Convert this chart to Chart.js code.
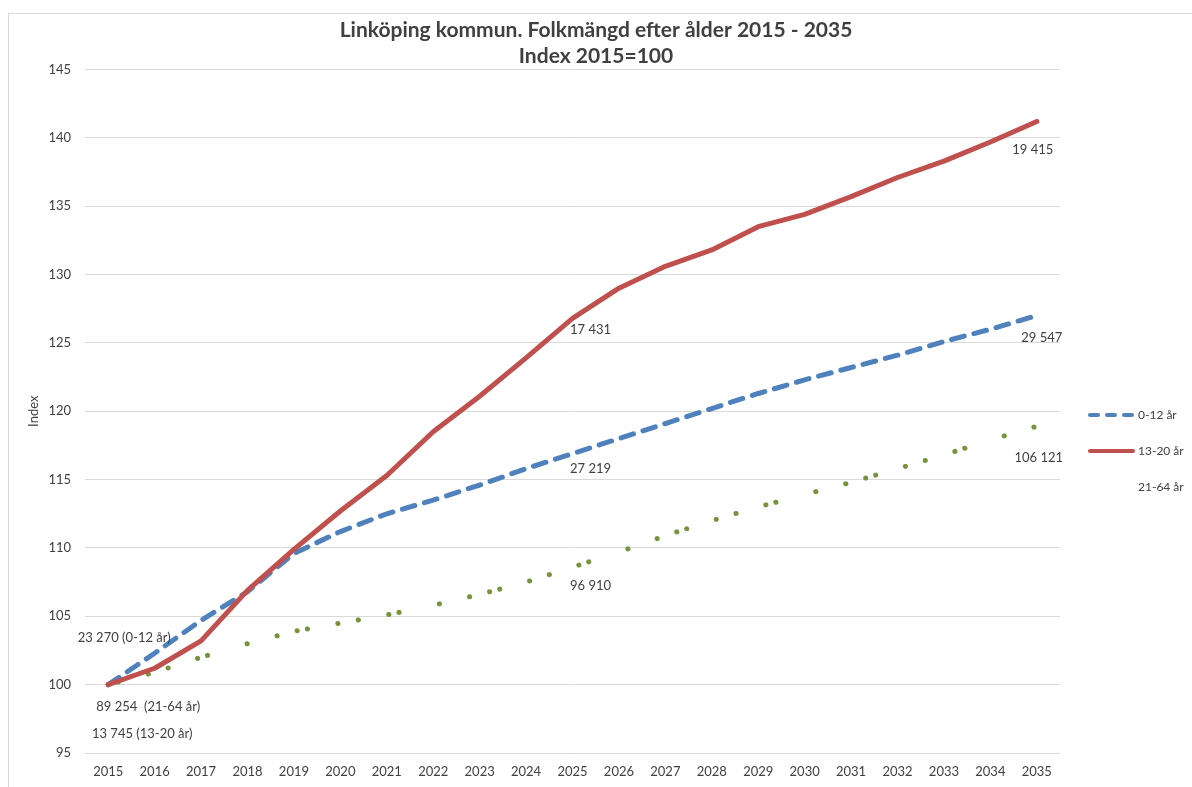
<!DOCTYPE html>
<html>
<head>
<meta charset="utf-8">
<title>Linköping kommun. Folkmängd efter ålder 2015 - 2035</title>
<script src="https://cdn.jsdelivr.net/npm/chart.js@4.4.1/dist/chart.umd.min.js"></script>
<style>
    body { margin: 0; background: #fff; }
    #wrap { position: relative; width: 1192px; height: 787px; }
</style>
</head>
<body>
<div id="wrap"><canvas id="popChart"></canvas></div>
<script>
// Data (index 2015 = 100)
const years = ['2015', '2016', '2017', '2018', '2019', '2020', '2021', '2022', '2023', '2024', '2025',
               '2026', '2027', '2028', '2029', '2030', '2031', '2032', '2033', '2034', '2035'];
const age0to12 = [100, 102.3, 104.7, 106.8, 109.6, 111.2, 112.5, 113.5, 114.6, 115.8, 116.9,
                  118.0, 119.1, 120.2, 121.3, 122.3, 123.2, 124.1, 125.1, 126.0, 127.0];
const age13to20 = [100, 101.2, 103.2, 106.9, 109.9, 112.7, 115.3, 118.5, 121.1, 123.9, 126.8,
                   129.0, 130.6, 131.8, 133.5, 134.4, 135.7, 137.1, 138.3, 139.7, 141.2];
const age21to64 = [100, 100.9, 102.0, 103.0, 103.9, 104.5, 105.1, 105.8, 106.6, 107.5, 108.6,
                   109.7, 110.9, 112.0, 113.0, 113.9, 114.8, 115.8, 116.8, 117.9, 118.9];
const seriesNames = ['0-12 år', '13-20 år', '21-64 år'];
const yMin = 95;
const yMax = 145;
const yStep = 5;

// Population labels attached to single points: [series, year index, text]
const pointNotes = [
    [0, 0, '23 270 (0-12 år)'],
    [2, 0, '89 254  (21-64 år)'],
    [1, 0, '13 745 (13-20 år)'],
    [1, 10, '17 431'],
    [0, 10, '27 219'],
    [2, 10, '96 910'],
    [1, 20, '19 415'],
    [0, 20, '29 547'],
    [2, 20, '106 121']
];
// where each note sits relative to its point (px)
const noteOffsets = [[16, -47], [40, 22], [34, 49], [18, 12], [18, 15], [18, 19], [-4, 28], [5, 22], [2, 32]];

const textColor = '#404040';
const fontFamily = 'Lato, "Open Sans", sans-serif';

const decorPlugin = {
    id: 'decor',
    beforeDraw(chart) {
        const ctx = chart.ctx;
        ctx.save();
        ctx.strokeStyle = '#d9d9d9';
        ctx.lineWidth = 1;
        ctx.strokeRect(8.5, 13.5, 1300, 900);
        ctx.restore();
    },
    afterDatasetsDraw(chart) {
        const ctx = chart.ctx;
        ctx.save();
        ctx.font = '13px ' + fontFamily;
        ctx.fillStyle = textColor;
        ctx.textAlign = 'center';
        ctx.textBaseline = 'middle';
        pointNotes.forEach(function(note, i) {
            const pt = chart.getDatasetMeta(note[0]).data[note[1]];
            ctx.fillText(note[2], pt.x + noteOffsets[i][0], pt.y + noteOffsets[i][1]);
        });
        ctx.restore();
    },
    afterDraw(chart) {
        // legend on the right, drawn like Excel's line samples
        const ctx = chart.ctx;
        const x0 = chart.chartArea.right + 30;
        const rows = [415, 451, 487];
        ctx.save();
        chart.data.datasets.forEach(function(ds, i) {
            const y = rows[i];
            if (ds.legendDash !== null) {
                ctx.beginPath();
                ctx.strokeStyle = ds.borderColor;
                ctx.lineWidth = 4;
                ctx.lineCap = 'round';
                ctx.setLineDash(ds.legendDash);
                ctx.moveTo(x0, y);
                ctx.lineTo(x0 + 43, y);
                ctx.stroke();
            }
            ctx.setLineDash([]);
            ctx.font = '12px ' + fontFamily;
            ctx.fillStyle = textColor;
            ctx.textAlign = 'left';
            ctx.textBaseline = 'middle';
            ctx.fillText(ds.label, x0 + 48, y);
        });
        ctx.restore();
    }
};

new Chart(document.getElementById('popChart'), {
    type: 'line',
    data: {
        labels: years,
        datasets: [{
            label: seriesNames[0],
            data: age0to12,
            borderColor: '#4f81bd',
            borderWidth: 5,
            borderDash: [13, 10],
            borderCapStyle: 'round',
            legendDash: [8, 9],
            pointRadius: 0,
            tension: 0,
            order: 1
        }, {
            label: seriesNames[1],
            data: age13to20,
            borderColor: '#c0504d',
            borderWidth: 5,
            borderCapStyle: 'round',
            borderJoinStyle: 'round',
            legendDash: [],
            pointRadius: 0,
            tension: 0,
            order: 0
        }, {
            label: seriesNames[2],
            data: age21to64,
            borderColor: '#77933c',
            borderWidth: 5,
            borderDash: [0.1, 10.3, 0.1, 30.9, 0.1, 20.6, 0.1, 30.9, 0.1, 10.3, 0.1, 41.2, 0.1, 30.9, 0.1, 20.6],
            borderCapStyle: 'round',
            legendDash: null,
            pointRadius: 0,
            tension: 0,
            order: 2
        }]
    },
    options: {
        responsive: true,
        maintainAspectRatio: false,
        animation: false,
        layout: { padding: 0 },
        plugins: {
            legend: { display: false },
            tooltip: { enabled: false },
            title: {
                display: true,
                text: ['Linköping kommun. Folkmängd efter ålder 2015 - 2035', 'Index 2015=100'],
                color: textColor,
                font: { family: fontFamily, size: 21, weight: 'bold', lineHeight: 1.25 },
                padding: { top: 17, bottom: 0 }
            }
        },
        scales: {
            x: {
                offset: true,
                grid: { display: false, drawTicks: false },
                border: { display: false },
                ticks: {
                    color: textColor,
                    padding: 11,
                    maxRotation: 0,
                    autoSkip: false,
                    font: { family: fontFamily, size: 13 }
                },
                afterFit(scale) { scale.height = 34; }
            },
            y: {
                min: yMin,
                max: yMax,
                grid: { color: '#d9d9d9', lineWidth: 1, drawTicks: false },
                border: { display: false },
                ticks: {
                    stepSize: yStep,
                    color: textColor,
                    padding: 14,
                    font: { family: fontFamily, size: 13 }
                },
                title: {
                    display: true,
                    text: 'Index',
                    color: textColor,
                    padding: { top: 26, bottom: 0 },
                    font: { family: fontFamily, size: 13 }
                },
                afterFit(scale) { scale.width = 85; }
            },
            // empty right-hand axis that keeps room for the legend
            legendSpace: {
                type: 'linear',
                position: 'right',
                grid: { display: false },
                border: { display: false },
                ticks: { display: false },
                afterFit(scale) { scale.width = 132; }
            }
        }
    },
    plugins: [decorPlugin]
});
</script>
</body>
</html>
